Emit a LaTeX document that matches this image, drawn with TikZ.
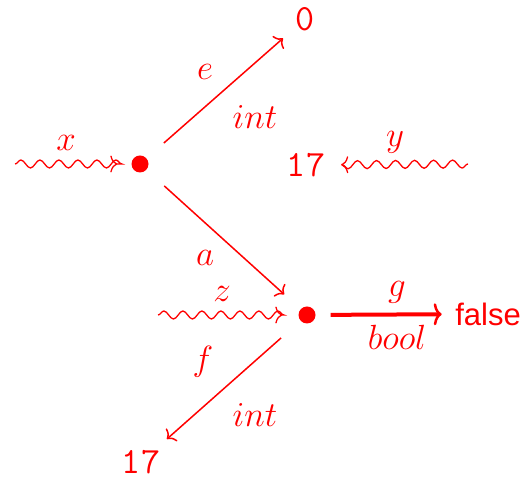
\RequirePackage{fix-cm}
\documentclass[tikz,border=0pt]{standalone}
\usepackage{fontspec}
\newfontfamily\lsans{Liberation Sans}
\usetikzlibrary{decorations.pathmorphing,arrows.meta}
\begin{document}
\begin{tikzpicture}[x=1pt,y=1pt,
  every node/.style={text=red,font=\fontsize{35}{42}\selectfont},
  dot/.style={circle,fill=red,minimum size=17pt,inner sep=0pt},
  num/.style={font=\fontsize{37}{44}\selectfont\ttfamily,inner sep=1pt},
  lab/.style={inner sep=0pt},
  edgeline/.style={draw=red,line width=1.5pt,-{To[length=7pt,width=17pt]}},
  wave/.style={draw=red,line width=1.3pt,-{To[length=7pt,width=17pt]},decorate,
    decoration={snake,amplitude=4pt,segment length=19pt,post length=8pt}},
  thickline/.style={draw=red,line width=4pt,-{To[length=8pt,width=22pt,line width=2.5pt]}}]
\useasboundingbox (0,0) rectangle (524,478);
\node[dot] (d1) at (140,314) {};
\node[dot] (d2) at (307,163) {};
\node[num] (n0) at (305,459) {0};
\node[num] (n17a) at (306,313) {17};
\node[num] (n17b) at (141,16) {17};
\node[font=\fontsize{31}{38}\selectfont\lsans] (nf) at (488,164) {false};
\coordinate (cx) at (15,314);
\coordinate (cy) at (468,314);
\coordinate (cz) at (158,163);
% connectors
\draw[edgeline,shorten <=23pt,shorten >=15pt] (d1) -- (n0);
\draw[edgeline,shorten <=24pt,shorten >=22pt] (d1) -- (d2);
\draw[edgeline,shorten <=26pt,shorten >=15pt] (d2) -- (n17b);
\draw[thickline,shorten <=15pt,shorten >=10pt] (d2) -- (nf);
\draw[wave,shorten >=14pt] (cx) -- (d1);
\draw[wave,shorten >=15pt] (cy) -- (n17a);
\draw[wave,shorten >=16pt] (cz) -- (d2);
% labels
\node[lab] (le) at (205,406) {$e$};
\node[lab] (li1) at (255,361) {$int$};
\node[lab] (lx) at (66,335) {$x$};
\node[lab] (ly) at (395,336) {$y$};
\node[lab] (la) at (205,220) {$a$};
\node[lab] (lz) at (222,184) {$z$};
\node[lab] (lg) at (397,186) {$g$};
\node[lab] (lb) at (397,141) {$bool$};
\node[lab] (lf) at (203,116) {$f$};
\node[lab] (li2) at (255,63) {$int$};
\end{tikzpicture}
\end{document}
